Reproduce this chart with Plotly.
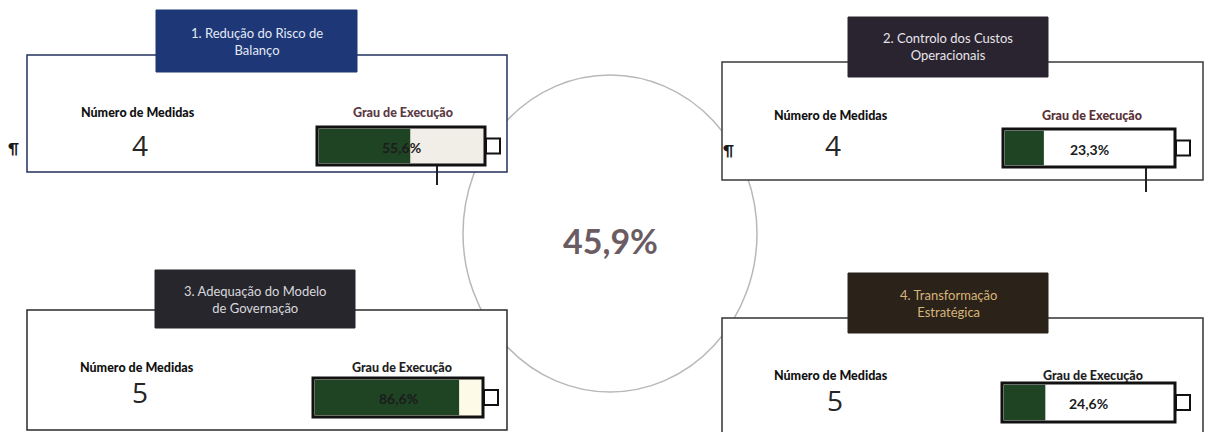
import plotly.graph_objects as go

# ---------------- data ----------------
pillars = [
    "1. Redução do Risco de<br>Balanço",
    "2. Controlo dos Custos<br>Operacionais",
    "3. Adequação do Modelo<br>de Governação",
    "4. Transformação<br>Estratégica",
]
n_medidas = [4, 4, 5, 5]
grau_execucao = [55.6, 23.3, 86.6, 24.6]
overall = 45.9
label_medidas = "Número de Medidas"
label_grau = "Grau de Execução"

# ---------------- layout constants (pixels) ----------------
W, H = 1205, 432
def px(x): return x / W
def py(y): return 1 - y / H

panels = [
    dict(box=(27, 55, 507, 172), title=(156, 10, 357, 72), title_bg="#1d3777", title_fc="#e4eaf6",
         border="#22315e", lab_y=112, num_y=145, lab_x=138, num_x=140, grau_x=403, grau_col="#5b3a44",
         bat=(317, 127, 485, 165), inner="#f1eee8"),
    dict(box=(722, 62, 1203, 180), title=(848, 17, 1048, 77), title_bg="#2a2430", title_fc="#e8e4ea",
         border="#3a3a3a", lab_y=115, num_y=145, lab_x=831, num_x=833, grau_x=1092, grau_col="#5a2f36",
         bat=(1003, 129, 1175, 167), inner="#ffffff"),
    dict(box=(27, 310, 507, 430), title=(155, 270, 355, 328), title_bg="#27262c", title_fc="#d8d8dc",
         border="#2a2a2a", lab_y=367, num_y=392, lab_x=137, num_x=140, grau_x=402, grau_col="#1e1e1e",
         bat=(313, 378, 483, 417), inner="#fdfbe8"),
    dict(box=(722, 318, 1203, 445), title=(848, 273, 1048, 333), title_bg="#2b2219", title_fc="#d6b57a",
         border="#333333", lab_y=375, num_y=400, lab_x=831, num_x=835, grau_x=1093, grau_col="#1e1e1e",
         bat=(1002, 383, 1175, 422), inner="#ffffff"),
]
GREEN = "#1e4424"
FONT = "Lato"

fig = go.Figure()
shapes = []
annotations = []

# central circle (drawn first so the boxes cover it)
shapes.append(dict(type="circle", xref="paper", yref="paper", layer="below",
                   x0=px(463), x1=px(757), y0=py(392), y1=py(75),
                   line=dict(color="#b8b8b8", width=1.5), fillcolor="rgba(0,0,0,0)"))

for i, p in enumerate(panels):
    bx0, by0, bx1, by1 = p["box"]
    shapes.append(dict(type="rect", xref="paper", yref="paper", layer="below",
                       x0=px(bx0), x1=px(bx1), y0=py(by1), y1=py(by0),
                       line=dict(color=p["border"], width=1.5), fillcolor="white"))
    tx0, ty0, tx1, ty1 = p["title"]
    shapes.append(dict(type="rect", xref="paper", yref="paper", layer="below",
                       x0=px(tx0), x1=px(tx1), y0=py(ty1), y1=py(ty0),
                       line=dict(color=p["title_bg"], width=1), fillcolor=p["title_bg"]))
    annotations.append(dict(xref="paper", yref="paper", x=px((tx0 + tx1) / 2), y=py((ty0 + ty1) / 2),
                            text=pillars[i], showarrow=False, xanchor="center", yanchor="middle",
                            font=dict(family=FONT, size=13, color=p["title_fc"]), align="center"))
    annotations.append(dict(xref="paper", yref="paper", x=px(p["lab_x"]), y=py(p["lab_y"]),
                            text=label_medidas, showarrow=False,
                            xanchor="center", yanchor="middle",
                            font=dict(family=FONT, size=12.5, color="#111111", weight=900)))
    annotations.append(dict(xref="paper", yref="paper", x=px(p["num_x"]), y=py(p["num_y"]),
                            text=str(n_medidas[i]), showarrow=False,
                            xanchor="center", yanchor="middle",
                            font=dict(family="Open Sans", size=28, color="#262626")))
    annotations.append(dict(xref="paper", yref="paper", x=px(p["grau_x"]), y=py(p["lab_y"]),
                            text=label_grau, showarrow=False,
                            xanchor="center", yanchor="middle",
                            font=dict(family=FONT, size=12.5, color=p["grau_col"], weight=900)))
    # battery
    ax0, ay0, ax1, ay1 = p["bat"]
    shapes.append(dict(type="rect", xref="paper", yref="paper", layer="below",
                       x0=px(ax0), x1=px(ax1), y0=py(ay1), y1=py(ay0),
                       line=dict(width=0), fillcolor=p["inner"]))
    shapes.append(dict(type="rect", xref="paper", yref="paper", layer="above",
                       x0=px(ax0), x1=px(ax1), y0=py(ay1), y1=py(ay0),
                       line=dict(color="#111111", width=3), fillcolor="rgba(0,0,0,0)"))
    cy = (ay0 + ay1) / 2
    shapes.append(dict(type="rect", xref="paper", yref="paper", layer="above",
                       x0=px(ax1 + 1), x1=px(ax1 + 15), y0=py(cy + 7.5), y1=py(cy - 7.5),
                       line=dict(color="#111111", width=2), fillcolor="white"))
    k = i + 2
    fig.add_trace(go.Bar(x=[grau_execucao[i]], y=[0], orientation="h", width=1,
                         marker=dict(color=GREEN, line=dict(width=0)),
                         xaxis=f"x{k}", yaxis=f"y{k}", showlegend=False, hoverinfo="skip"))
    fig.layout[f"xaxis{k}"] = dict(domain=[px(ax0 + 1.5), px(ax1 - 1.5)], range=[0, 100], visible=False,
                                   fixedrange=True, anchor=f"y{k}")
    fig.layout[f"yaxis{k}"] = dict(domain=[py(ay1 - 1.5), py(ay0 + 1.5)], range=[-0.5, 0.5], visible=False,
                                   fixedrange=True, anchor=f"x{k}")
    annotations.append(dict(xref="paper", yref="paper", x=px((ax0 + ax1) / 2), y=py(cy + 1),
                            text="<b>" + f"{grau_execucao[i]:.1f}".replace(".", ",") + "%</b>",
                            showarrow=False, xanchor="center", yanchor="middle",
                            font=dict(family=FONT, size=14, color="#1c1c1c")))

# small scanning marks
for (x, y0, y1) in [(437, 166, 185), (1146, 168, 192)]:
    shapes.append(dict(type="line", xref="paper", yref="paper", layer="above",
                       x0=px(x), x1=px(x), y0=py(y1), y1=py(y0),
                       line=dict(color="#222222", width=2)))
for (x, y) in [(13, 148), (728, 150)]:
    annotations.append(dict(xref="paper", yref="paper", x=px(x), y=py(y), text="<b>¶</b>",
                            showarrow=False, xanchor="center", yanchor="middle",
                            font=dict(family=FONT, size=15, color="#1a1a1a")))

# centre value
annotations.append(dict(xref="paper", yref="paper", x=px(610), y=py(240),
                        text="<b>" + f"{overall:.1f}".replace(".", ",") + "%</b>", showarrow=False,
                        xanchor="center", yanchor="middle",
                        font=dict(family=FONT, size=34, color="#6b5c63")))

fig.update_layout(
    width=W, height=H, margin=dict(l=0, r=0, t=0, b=0),
    paper_bgcolor="white", plot_bgcolor="rgba(0,0,0,0)",
    xaxis=dict(visible=False), yaxis=dict(visible=False),
    shapes=shapes, annotations=annotations, showlegend=False,
)
fig.write_html("out.html")
